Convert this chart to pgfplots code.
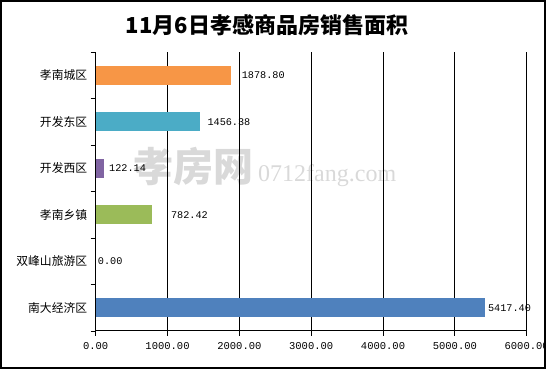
\documentclass[border=0pt]{standalone}
\usepackage{fontspec}
\setmainfont{Noto Sans CJK SC}
\newfontfamily\mono{Liberation Mono}
\newfontfamily\wmserif{Liberation Serif}
\usepackage{pgfplots}
\pgfplotsset{compat=1.18}
\definecolor{corange}{HTML}{F79646}
\definecolor{cteal}{HTML}{4BACC6}
\definecolor{cpurple}{HTML}{8064A2}
\definecolor{cgreen}{HTML}{9BBB59}
\definecolor{cblue}{HTML}{4F81BD}
\begin{document}
\begin{tikzpicture}
\useasboundingbox (0pt,0pt) rectangle (546pt,369pt);
\node[text=black!15, font=\fontsize{40}{40}\selectfont\bfseries, anchor=base west, inner sep=0pt] at (133pt,187pt) {孝房网};
\node[text=black!15, font=\wmserif\fontsize{24}{24}\selectfont, anchor=base west, inner sep=0pt] at (258pt,187pt) {0712fang.com};
\begin{axis}[
  at={(95.7pt,38pt)}, anchor=south west,
  scale only axis, width=431pt, height=279pt,
  xmin=0, xmax=6000, ymin=-0.5, ymax=5.5,
  axis lines*=left,
  axis line style={line width=1pt, black},
  tick align=outside,
  major tick length=5pt,
  tick style={line width=0.9pt, black},
  xtick={0,1000,...,6000},
  xticklabels={0.00,1000.00,2000.00,3000.00,4000.00,5000.00,6000.00},
  ytick={-0.5,0.5,...,5.5},
  y tick label as interval,
  yticklabels={南大经济区,双峰山旅游区,孝南乡镇,开发西区,开发东区,孝南城区},
  x tick label style={font=\mono\fontsize{10.5}{12}\selectfont, yshift=-3pt},
  y tick label style={font=\fontsize{11.8}{14}\selectfont, xshift=0pt},
  xmajorgrids=true,
  grid style={line width=0.8pt, black},
  clip=false,
  point meta=explicit symbolic,
  nodes near coords,
  every node near coord/.append style={font=\mono\fontsize{10.2}{12}\selectfont, anchor=west, inner sep=2pt, text=black},
]
\addplot[xbar, bar width=19pt, bar shift=0pt, fill=corange, draw=none, every node near coord/.append style={xshift=9pt}] coordinates {(1878.80,5) [1878.80]};
\addplot[xbar, bar width=19pt, bar shift=0pt, fill=cteal, draw=none, every node near coord/.append style={xshift=5pt}] coordinates {(1456.38,4) [1456.38]};
\addplot[xbar, bar width=19pt, bar shift=0pt, fill=cpurple, draw=none, every node near coord/.append style={xshift=2.5pt}] coordinates {(122.14,3) [122.14]};
\addplot[xbar, bar width=19pt, bar shift=0pt, fill=cgreen, draw=none, every node near coord/.append style={xshift=17pt}] coordinates {(782.42,2) [782.42]};
\addplot[xbar, bar width=19pt, bar shift=0pt, fill=white, draw=none] coordinates {(0,1) [0.00]};
\addplot[xbar, bar width=19pt, bar shift=0pt, fill=cblue, draw=none, every node near coord/.append style={xshift=1pt}] coordinates {(5417.40,0) [5417.40]};
\end{axis}
\node[font=\fontsize{22}{24}\selectfont\bfseries] at (267pt,344pt) {11月6日孝感商品房销售面积};
\draw[line width=2pt, black] (1pt,1pt) rectangle (545pt,368pt);
\end{tikzpicture}
\end{document}
